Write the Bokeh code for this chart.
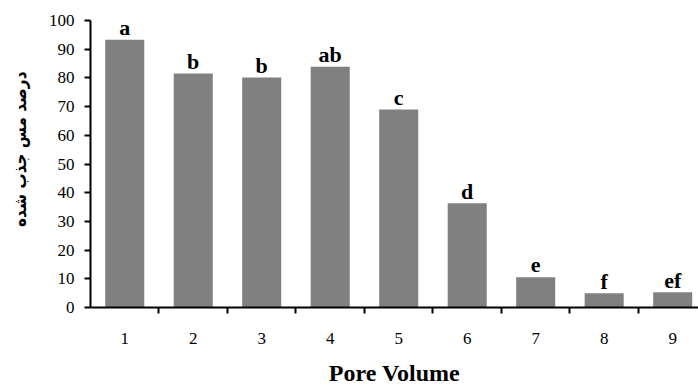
from bokeh.plotting import figure
from bokeh.models import Range1d, FixedTicker, ColumnDataSource, Title
from bokeh.core.properties import value
from bokeh.embed import file_html
from bokeh.resources import INLINE

pore_volume = [1, 2, 3, 4, 5, 6, 7, 8, 9]
tick_labels = ["1", "2", "3", "4", "5", "6", "7", "8", "9"]
copper_adsorbed = [93.3, 81.5, 80.1, 83.9, 69.0, 36.3, 10.5, 5.0, 5.3]
letters = ["a", "b", "b", "ab", "c", "d", "e", "f", "ef"]
y_ticks = [0, 10, 20, 30, 40, 50, 60, 70, 80, 90, 100]
boundaries = [1.5, 2.5, 3.5, 4.5, 5.5, 6.5, 7.5, 8.5]

SERIF = "Liberation Serif"

src = ColumnDataSource(dict(x=pore_volume, y=copper_adsorbed, lab=letters))

p = figure(width=698, height=388, output_backend="svg", toolbar_location=None,
           x_range=Range1d(0.5, 9.377), y_range=Range1d(0, 100),
           min_border_left=90, min_border_right=0, min_border_top=20, min_border_bottom=80)
p.outline_line_color = None
p.grid.grid_line_color = None
p.background_fill_color = "white"
p.border_fill_color = "white"

p.vbar(x="x", top="y", width=0.57, bottom=0, source=src,
       fill_color="#808080", line_color=None)
p.text(x="x", y="y", text="lab", source=src, y_offset=-12,
       text_align="center", text_baseline="alphabetic",
       text_font=value(SERIF), text_font_style="bold",
       text_font_size="22px", text_color="black")

# x axis
xa = p.xaxis[0]
xa.ticker = FixedTicker(ticks=pore_volume, minor_ticks=boundaries)
xa.major_label_overrides = {v: t for v, t in zip(pore_volume, tick_labels)}
xa.major_tick_out = 0
xa.major_tick_in = 0
xa.minor_tick_out = 6
xa.minor_tick_in = 0
xa.minor_tick_line_width = 2
xa.minor_tick_line_color = "black"
xa.axis_line_width = 2
xa.axis_line_color = "black"
xa.major_label_standoff = 19
xa.major_label_text_font = SERIF
xa.major_label_text_font_size = "17px"
xa.major_label_text_color = "black"
xa.axis_label = "Pore Volume"
xa.axis_label_text_font = SERIF
xa.axis_label_text_font_style = "bold"
xa.axis_label_text_font_size = "24px"
xa.axis_label_text_color = "black"
xa.axis_label_standoff = 13

# y axis
ya = p.yaxis[0]
ya.ticker = FixedTicker(ticks=y_ticks, minor_ticks=[])
ya.major_tick_out = 6
ya.major_tick_in = 0
ya.major_tick_line_width = 2
ya.major_tick_line_color = "black"
ya.axis_line_width = 2
ya.axis_line_color = "black"
ya.major_label_standoff = 10
ya.major_label_text_font = SERIF
ya.major_label_text_font_size = "17px"
ya.major_label_text_color = "black"
ya.axis_label = None

spacer = Title(text=" ", text_font_size="12px", standoff=0)
p.add_layout(spacer, "left")
t = Title(text="درصد مس جذب شده", align="right", offset=51,
          text_font="DejaVu Sans Condensed", text_font_style="bold",
          text_font_size="17px", text_color="black", standoff=0)
p.add_layout(t, "left")

open("out.html", "w").write(file_html(p, INLINE))
